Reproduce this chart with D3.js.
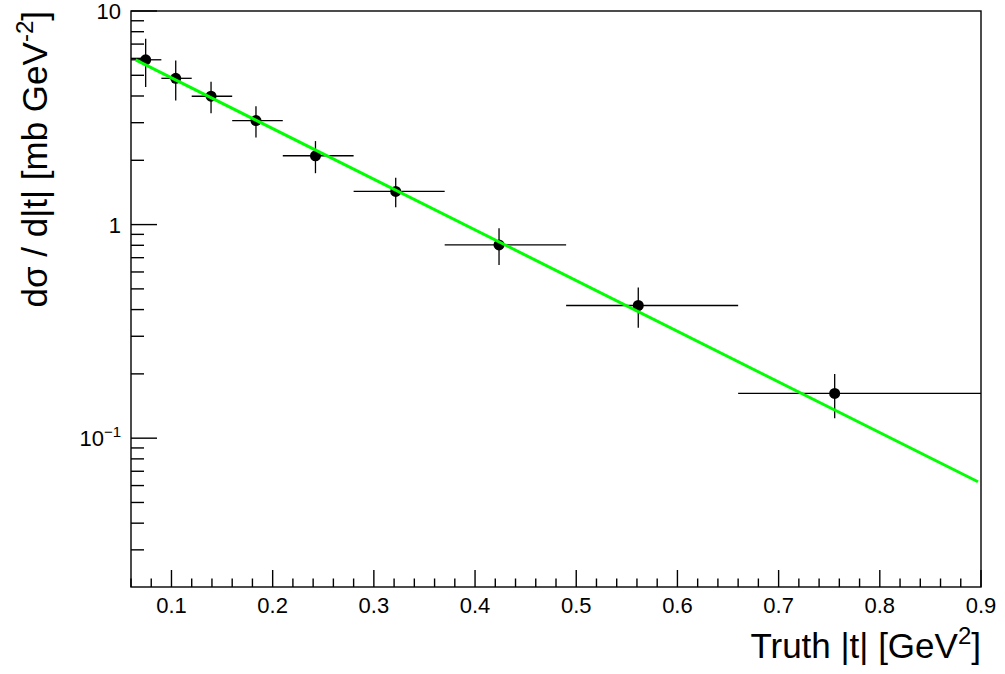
<!DOCTYPE html>
<html>
<head>
<meta charset="utf-8">
<script src="https://cdn.jsdelivr.net/npm/d3@7"></script>
<style>
    body { margin: 0; background: #fff; }
    text { font-family: "Liberation Sans", Arial, Helvetica, sans-serif; fill: #000; }
</style>
</head>
<body>
<div class="canvas"></div>
<script>
// measured points (weighted bin centres) and bin edges
const tValues = [0.0745, 0.1042, 0.1391, 0.1835, 0.2423, 0.3216, 0.4237, 0.5613, 0.7554]
const binLow  = [0.06, 0.09, 0.12, 0.16, 0.21, 0.28, 0.37, 0.49, 0.66]
const binHigh = [0.09, 0.12, 0.16, 0.21, 0.28, 0.37, 0.49, 0.66, 0.90]
const xsec    = [5.91, 4.84, 3.99, 3.07, 2.10, 1.43, 0.803, 0.418, 0.162]
const xsecErr = [1.50, 1.03, 0.67, 0.51, 0.36, 0.225, 0.157, 0.089, 0.038]

// exponential fit, straight on log scale: end points
const fitT = [0.0646, 0.897]
const fitY = [5.90, 0.0625]

const xTicks = [0.1, 0.2, 0.3, 0.4, 0.5, 0.6, 0.7, 0.8, 0.9]
const yTicks = [10, 1, 0.1]

const width = 1005
const height = 674
const margin = { top: 11, right: 24, bottom: 87, left: 131 }
const graphWidth = width - margin.left - margin.right
const graphHeight = height - margin.top - margin.bottom

const svg = d3.select(".canvas").append("svg")
    .attr("width", width)
    .attr("height", height)

const graph = svg.append("g")
    .attr("transform", `translate(${margin.left}, ${margin.top})`)

const x = d3.scaleLinear()
    .domain([0.06, 0.9])
    .range([0, graphWidth])
const y = d3.scaleLog()
    .domain([0.0201, 10])
    .range([graphHeight, 0])

// minor ticks
const xMinor = d3.range(0.06, 0.9001, 0.02).filter(v => !xTicks.some(t => Math.abs(t - v) < 1e-6))
const yMinor = []
;[0.01, 0.1, 1].forEach(dec => {
    for (let k = 2; k <= 9; k++) {
        const v = dec * k
        if (v >= 0.0201 && v <= 10) yMinor.push(v)
    }
})

// x axis ticks (inside the frame)
graph.selectAll(".xmaj")
    .data(xTicks)
    .enter()
    .append("line")
    .attr("x1", d => x(d)).attr("x2", d => x(d))
    .attr("y1", graphHeight).attr("y2", graphHeight - 17)
    .attr("stroke", "#000")
    .attr("stroke-width", 1.4)
graph.selectAll(".xmin")
    .data(xMinor)
    .enter()
    .append("line")
    .attr("x1", d => x(d)).attr("x2", d => x(d))
    .attr("y1", graphHeight).attr("y2", graphHeight - 8.5)
    .attr("stroke", "#000")
    .attr("stroke-width", 1.4)

// y axis ticks
graph.selectAll(".ymaj")
    .data(yTicks)
    .enter()
    .append("line")
    .attr("x1", 0).attr("x2", 26)
    .attr("y1", d => y(d)).attr("y2", d => y(d))
    .attr("stroke", "#000")
    .attr("stroke-width", 1.4)
graph.selectAll(".ymin")
    .data(yMinor)
    .enter()
    .append("line")
    .attr("x1", 0).attr("x2", 13)
    .attr("y1", d => y(d)).attr("y2", d => y(d))
    .attr("stroke", "#000")
    .attr("stroke-width", 1.4)

// tick labels
graph.selectAll(".xlab")
    .data(xTicks)
    .enter()
    .append("text")
    .attr("x", d => x(d))
    .attr("y", graphHeight + 26)
    .attr("text-anchor", "middle")
    .attr("font-size", 22)
    .text(d => d3.format(".1f")(d))

const yLab = graph.selectAll(".ylab")
    .data(yTicks)
    .enter()
    .append("text")
    .attr("x", -10)
    .attr("y", d => y(d) + 8)
    .attr("text-anchor", "end")
    .attr("font-size", 22)
yLab.each(function(d) {
    const t = d3.select(this)
    if (d >= 1) {
        t.text(d)
    } else {
        t.append("tspan").text("10")
        t.append("tspan").attr("dy", -9).attr("font-size", 15).text("\u22121")
    }
})

// error bars
const pts = tValues.map((t, i) => ({ t, lo: binLow[i], hi: binHigh[i], v: xsec[i], e: xsecErr[i] }))

graph.selectAll(".ex")
    .data(pts)
    .enter()
    .append("line")
    .attr("x1", d => x(d.lo)).attr("x2", d => x(d.hi))
    .attr("y1", d => y(d.v)).attr("y2", d => y(d.v))
    .attr("stroke", "#000")
    .attr("stroke-width", 1.3)
graph.selectAll(".ey")
    .data(pts)
    .enter()
    .append("line")
    .attr("x1", d => x(d.t)).attr("x2", d => x(d.t))
    .attr("y1", d => y(d.v + d.e)).attr("y2", d => y(d.v - d.e))
    .attr("stroke", "#000")
    .attr("stroke-width", 1.3)
graph.selectAll(".pt")
    .data(pts)
    .enter()
    .append("circle")
    .attr("cx", d => x(d.t))
    .attr("cy", d => y(d.v))
    .attr("r", 5.5)
    .attr("fill", "#000")

// fit
const line = d3.line()
    .x(d => x(d[0]))
    .y(d => y(d[1]))
graph.append("path")
    .datum(fitT.map((t, i) => [t, fitY[i]]))
    .attr("d", line)
    .attr("fill", "none")
    .attr("stroke", "#00ff00")
    .attr("stroke-width", 3)

// frame
graph.append("rect")
    .attr("width", graphWidth)
    .attr("height", graphHeight)
    .attr("fill", "none")
    .attr("stroke", "#000")
    .attr("stroke-width", 1.4)

// axis titles
const xTitle = svg.append("text")
    .attr("x", margin.left + graphWidth)
    .attr("y", 658)
    .attr("text-anchor", "end")
    .attr("font-size", 35)
xTitle.append("tspan").text("Truth |t| [GeV")
xTitle.append("tspan").attr("dy", -14).attr("font-size", 24).text("2")
xTitle.append("tspan").attr("dy", 14).text("]")

const yTitle = svg.append("text")
    .attr("transform", `translate(47, ${margin.top}) rotate(-90)`)
    .attr("text-anchor", "end")
    .attr("font-size", 35)
yTitle.append("tspan").text("d\u03c3 / d|t| [mb GeV")
yTitle.append("tspan").attr("dy", -14).attr("font-size", 24).text("-2")
yTitle.append("tspan").attr("dy", 14).text("]")
</script>
</body>
</html>
